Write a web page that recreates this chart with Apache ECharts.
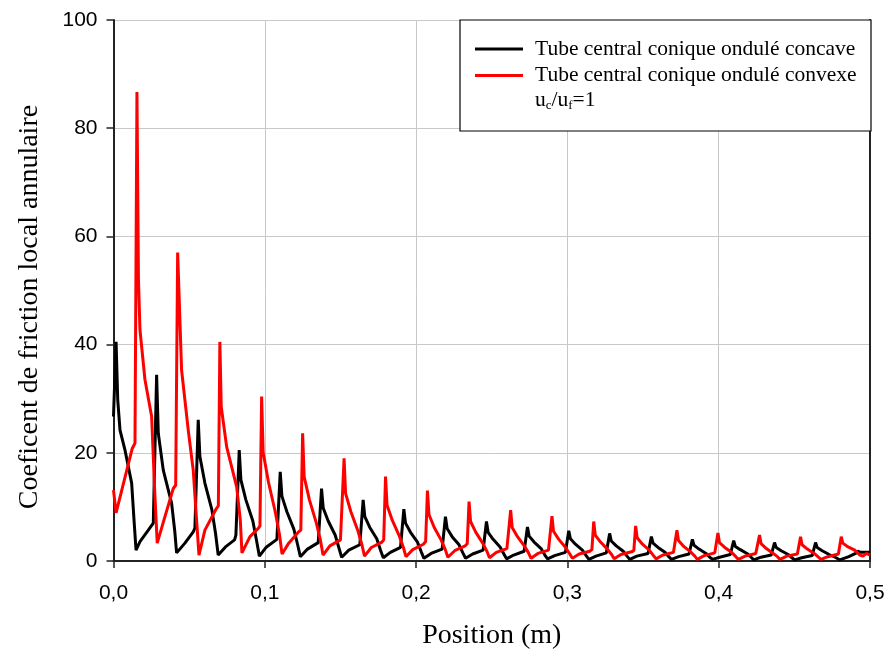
<!DOCTYPE html>
<html><head><meta charset="utf-8">
<script src="https://cdn.jsdelivr.net/npm/echarts@6/dist/echarts.min.js"></script>
<style>html,body{margin:0;padding:0;background:#fff}#c{width:887px;height:653px}</style>
</head><body><div id="c"></div>
<script>
var seriesNames = ['Tube central conique ondulé concave', 'Tube central conique ondulé convexe'];
var xTicks = [0, 0.1, 0.2, 0.3, 0.4, 0.5];
var yTicks = [0, 20, 40, 60, 80, 100];

var blackPos = [0,0.0017,0.0028,0.0043,0.0076,0.0120,0.0137,0.0149,0.0175,0.0230,0.0263,
0.0285,0.0296,0.0329,0.0384,0.0405,0.0417,0.0472,0.0527,0.0538,
0.0560,0.0571,0.0604,0.0650,0.0675,0.0692,0.0740,0.0800,0.0809,
0.0831,0.0842,0.0875,0.0921,0.0946,0.0964,0.1011,0.1080,
0.1102,0.1113,0.1146,0.1192,0.1217,0.1235,0.1282,0.1353,
0.1375,0.1386,0.1419,0.1465,0.1490,0.1508,0.1555,0.1628,
0.1650,0.1661,0.1694,0.1740,0.1765,0.1783,0.1830,0.1897,
0.1919,0.1930,0.1963,0.2009,0.2034,0.2052,0.2099,0.2172,
0.2194,0.2205,0.2238,0.2284,0.2309,0.2327,0.2374,0.2443,
0.2465,0.2476,0.2509,0.2555,0.2580,0.2598,0.2645,0.2714,
0.2736,0.2747,0.2780,0.2826,0.2851,0.2869,0.2916,0.2987,
0.3009,0.3020,0.3053,0.3099,0.3124,0.3142,0.3189,0.3257,
0.3279,0.3290,0.3323,0.3369,0.3394,0.3412,0.3459,0.3533,
0.3555,0.3566,0.3599,0.3645,0.3670,0.3688,0.3735,0.3804,
0.3826,0.3837,0.3870,0.3916,0.3941,0.3959,0.4006,0.4077,
0.4099,0.4110,0.4143,0.4189,0.4214,0.4232,0.4279,0.4347,
0.4369,0.4380,0.4413,0.4459,0.4484,0.4502,0.4549,0.4618,
0.4640,0.4651,0.4684,0.4730,0.4776,0.4800,0.4860,0.4905,0.4919,0.4940,0.5];
var blackVal = [26.7,40.5,29.8,24.2,20.5,14.4,7.0,2.0,3.6,5.7,7.0,
34.4,23.6,16.8,10.7,5.5,1.5,3.3,5.4,6.1,
26.1,19.3,14.4,9.5,5.0,1.1,2.6,3.9,4.8,
20.5,15.0,11.3,7.4,3.7,0.9,2.6,4.0,
16.5,12.0,9.1,5.9,3.0,0.8,2.2,3.4,
13.4,9.8,7.4,4.8,2.4,0.7,2.0,3.0,
11.3,8.2,6.2,4.1,2.0,0.6,1.6,2.5,
9.6,7.0,5.3,3.5,1.7,0.5,1.4,2.2,
8.2,6.0,4.5,3.0,1.5,0.5,1.3,2.0,
7.3,5.3,4.0,2.6,1.3,0.4,1.1,1.8,
6.3,4.6,3.5,2.3,1.1,0.4,1.0,1.6,
5.6,4.1,3.1,2.0,1.0,0.3,0.9,1.5,
5.1,3.7,2.8,1.8,0.9,0.3,0.9,1.4,
4.5,3.3,2.5,1.6,0.8,0.3,0.8,1.3,
4.0,2.9,2.2,1.4,0.7,0.3,0.7,1.2,
3.75,2.7,2.1,1.35,0.7,0.2,0.7,1.1,
3.4,2.5,1.9,1.2,0.6,0.2,0.6,1.0,
3.4,2.5,1.9,1.2,0.6,0.2,0.8,1.4,1.8,1.6,1.6];

var redPos = [0,0.0017,0.0124,0.0142,
0.0155,0.0165,0.0175,0.0208,0.0252,0.0274,0.0289,0.0340,0.0395,0.0411,
0.0424,0.0450,0.0494,0.0527,0.0548,0.0565,0.0604,0.0680,0.0693,
0.0703,0.0712,0.0748,0.0814,0.0838,0.0849,0.0902,0.0956,0.0968,
0.0979,0.0989,0.1024,0.1069,0.1097,0.1114,0.1158,0.1224,0.1238,
0.1250,0.1260,0.1295,0.1340,0.1368,0.1385,0.1430,0.1500,0.1512,
0.1524,0.1534,0.1569,0.1614,0.1642,0.1659,0.1704,0.1774,0.1786,
0.1798,0.1808,0.1843,0.1888,0.1916,0.1933,0.1978,0.2048,0.2063,
0.2075,0.2085,0.2120,0.2165,0.2193,0.2210,0.2255,0.2325,0.2338,
0.2350,0.2360,0.2395,0.2440,0.2468,0.2485,0.2530,0.2600,0.2613,
0.2625,0.2635,0.2670,0.2715,0.2743,0.2760,0.2805,0.2875,0.2886,
0.2898,0.2908,0.2943,0.2988,0.3016,0.3033,0.3078,0.3148,0.3162,
0.3174,0.3184,0.3219,0.3264,0.3292,0.3309,0.3354,0.3424,0.3439,
0.3451,0.3461,0.3496,0.3541,0.3569,0.3586,0.3631,0.3701,0.3712,
0.3724,0.3734,0.3769,0.3814,0.3842,0.3859,0.3904,0.3974,0.3983,
0.3995,0.4005,0.4040,0.4085,0.4113,0.4130,0.4175,0.4245,0.4258,
0.4270,0.4280,0.4315,0.4360,0.4388,0.4405,0.4450,0.4520,0.4529,
0.4541,0.4551,0.4586,0.4631,0.4659,0.4676,0.4721,0.4791,0.4798,
0.4810,0.4820,0.4855,0.4899,0.4932,0.4954,0.4976,0.5];
var redVal = [13.1,8.9,20.8,21.8,
86.7,52,42.7,33.5,26.7,11.9,3.3,8.2,13.4,14.0,
57.0,35.3,24.2,16.8,8.0,1.1,5.7,9.7,10.2,
40.5,28.5,21.1,13.7,7.6,1.5,4.5,6.0,6.5,
30.4,20.1,14.6,9.1,4.9,1.3,3.3,5.4,5.7,
23.6,15.6,11.3,7.1,3.8,1.1,2.8,3.9,4.2,
19.0,12.5,9.1,5.7,3.0,0.9,2.5,3.5,3.9,
15.6,10.3,7.5,4.7,2.5,0.8,2.1,3.1,3.6,
13.0,8.6,6.2,3.9,2.1,0.7,1.9,2.8,3.2,
11.0,7.3,5.3,3.3,1.8,0.6,1.6,2.3,2.6,
9.4,6.2,4.5,2.8,1.5,0.5,1.4,2.0,2.3,
8.3,5.5,4.0,2.5,1.3,0.5,1.3,1.8,2.1,
7.3,4.8,3.5,2.2,1.2,0.4,1.2,1.7,1.9,
6.5,4.3,3.1,2.0,1.0,0.4,1.1,1.6,1.8,
5.7,3.8,2.7,1.7,0.9,0.3,1.0,1.5,1.7,
5.2,3.4,2.5,1.6,0.8,0.3,0.9,1.4,1.6,
4.8,3.2,2.3,1.4,0.8,0.3,0.9,1.3,1.5,
4.5,3.0,2.2,1.4,0.7,0.3,0.8,1.3,1.5,
4.5,3.3,2.6,2.0,1.1,0.9,1.4,1.1];

function zip(a, b) { var o = []; for (var i = 0; i < a.length; i++) o.push([a[i], b[i]]); return o; }

var chart = echarts.init(document.getElementById('c'), null, {renderer: 'canvas'});
var axisCol = '#222';
chart.setOption({
  animation: false,
  backgroundColor: '#fff',
  grid: {left: 113.5, right: 17, top: 20, bottom: 92, containLabel: false, outerBoundsMode: 'none'},
  xAxis: {
    type: 'value', min: xTicks[0], max: xTicks[xTicks.length - 1], interval: 0.1,
    name: 'Position (m)', nameLocation: 'middle', nameGap: 61,
    nameTextStyle: {fontFamily: 'Liberation Serif', fontSize: 28, color: '#000'},
    axisLine: {show: true, onZero: false, lineStyle: {color: axisCol, width: 2}},
    axisTick: {show: true, length: 7, lineStyle: {color: axisCol, width: 1.5}},
    axisLabel: {margin: 22, fontFamily: 'Liberation Sans', fontSize: 21, color: '#000',
      formatter: function (v) { return v.toFixed(1).replace('.', ','); }},
    splitLine: {show: true, lineStyle: {color: '#c8c8c8', width: 1}}
  },
  yAxis: [{
    type: 'value', min: yTicks[0], max: yTicks[yTicks.length - 1], interval: 20,
    axisLine: {show: true, onZero: false, lineStyle: {color: axisCol, width: 2}},
    axisTick: {show: true, length: 7, lineStyle: {color: axisCol, width: 1.5}},
    axisLabel: {margin: 16, fontFamily: 'Liberation Sans', fontSize: 21, color: '#000'},
    splitLine: {show: true, lineStyle: {color: '#c8c8c8', width: 1}}
  }, {
    type: 'value', min: 0, max: 100, interval: 20, position: 'right',
    axisLine: {show: true, onZero: false, lineStyle: {color: axisCol, width: 2}},
    axisTick: {show: false}, axisLabel: {show: false}, splitLine: {show: false}
  }],
  legend: {
    show: true, orient: 'vertical', left: 475, top: 38, z: 101,
    itemWidth: 48, itemHeight: 3, itemGap: 4.5, icon: 'rect',
    padding: 0,
    textStyle: {fontFamily: 'Liberation Serif', fontSize: 21.5, color: '#000', lineHeight: 22, padding: [0, 0, 0, 7]},
    data: seriesNames
  },
  graphic: [
    {type: 'rect', z: 100, shape: {x: 460, y: 20, width: 411, height: 111},
     style: {fill: '#fff', stroke: '#000', lineWidth: 1.2}},
    {type: 'text', z: 102, left: 535, top: 89,
     style: {text: 'u{s|c}/u{s|f}=1', fontFamily: 'Liberation Serif', fontSize: 21.5, fill: '#000',
       rich: {s: {fontFamily: 'Liberation Serif', fontSize: 13, verticalAlign: 'bottom', padding: [12, 0, 0, 0], fill: '#000'}}}},
    {type: 'text', z: 102, x: 30, y: 307, rotation: Math.PI / 2,
     style: {text: 'Coeficent de friction local annulaire', fontFamily: 'Liberation Serif', fontSize: 28,
       fill: '#000', align: 'center', verticalAlign: 'middle'}}
  ],
  series: [
    {name: seriesNames[0], type: 'line', data: zip(blackPos, blackVal), showSymbol: false, symbol: 'none',
     lineStyle: {color: '#000', width: 3}, itemStyle: {color: '#000'}, z: 3},
    {name: seriesNames[1], type: 'line', data: zip(redPos, redVal), showSymbol: false, symbol: 'none',
     lineStyle: {color: '#ff0000', width: 3}, itemStyle: {color: '#ff0000'}, z: 4}
  ]
});
</script>
</body></html>
